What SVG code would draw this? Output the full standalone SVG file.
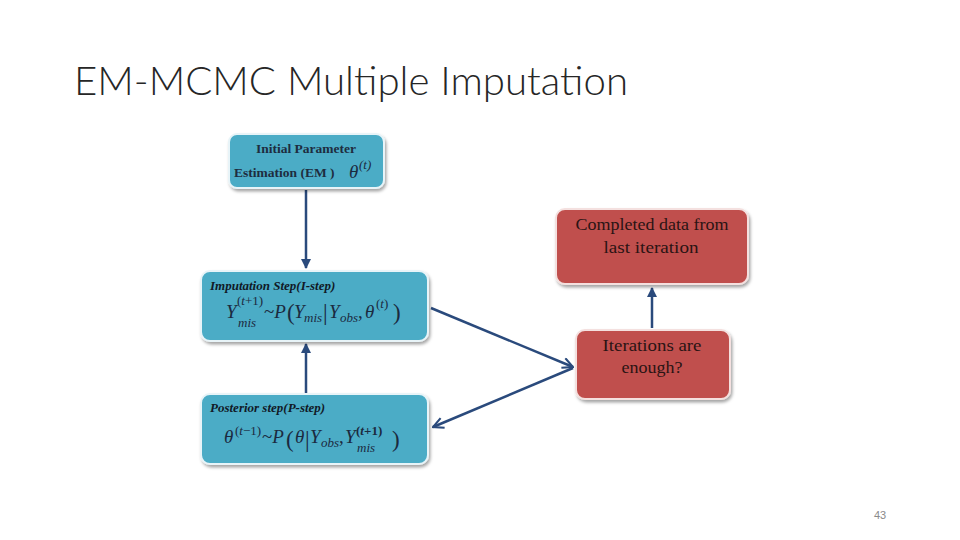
<svg xmlns="http://www.w3.org/2000/svg" width="960" height="540" viewBox="0 0 960 540">
<defs>
  <filter id="sh" x="-10%" y="-10%" width="125%" height="135%">
    <feDropShadow dx="1.5" dy="2.5" stdDeviation="1.5" flood-color="#000" flood-opacity="0.35"/>
  </filter>
  <marker id="tri" viewBox="0 0 10 10" refX="9" refY="5" markerWidth="4" markerHeight="4" orient="auto" markerUnits="strokeWidth">
    <path d="M0,0 L10,5 L0,10 z" fill="#2a4a7c"/>
  </marker>
  <marker id="vee" viewBox="0 0 12 12" refX="11" refY="6" markerWidth="5" markerHeight="5" orient="auto" markerUnits="strokeWidth">
    <path d="M1,1 L11,6 L1,11" fill="none" stroke="#2a4a7c" stroke-width="2"/>
  </marker>
</defs>
<style>
  .blue { fill: #4bacc6; stroke: #e8f4f8; stroke-width: 2; }
  .red { fill: #c0504d; stroke: #f4e0df; stroke-width: 2; }
  .conn { stroke: #2a4a7c; stroke-width: 2.5; fill: none; }
  .lbl { font-family: "Liberation Serif", serif; font-weight: bold; font-size: 13.5px; fill: #1e2d40; }
  .hd { font-family: "Liberation Serif", serif; font-weight: bold; font-style: italic; font-size: 13px; fill: #111a26; }
  .m { font-family: "Liberation Serif", serif; font-style: italic; font-size: 19px; fill: #1b2a3f; }
  .mr { font-family: "Liberation Serif", serif; font-size: 19px; fill: #1b2a3f; }
  .s { font-family: "Liberation Serif", serif; font-size: 13px; fill: #1b2a3f; }
  .si { font-family: "Liberation Serif", serif; font-style: italic; font-size: 13px; fill: #1b2a3f; }
  .big { font-family: "Liberation Serif", serif; font-size: 23px; fill: #1b2a3f; }
  .rt { font-family: "Liberation Serif", serif; font-size: 17px; fill: #2a1414; text-anchor: middle; }
</style>
<rect width="960" height="540" fill="#ffffff"/>
<text x="74" y="95" font-family="Lato, 'Open Sans', 'Liberation Sans', sans-serif" font-weight="300" font-size="40" fill="#262626" textLength="554" lengthAdjust="spacingAndGlyphs">EM-MCMC Multiple Imputation</text>

<g id="connectors">
  <line class="conn" x1="306" y1="190" x2="306" y2="268" marker-end="url(#tri)"/>
  <line class="conn" x1="306" y1="393" x2="306" y2="344" marker-end="url(#tri)"/>
  <line class="conn" x1="652" y1="328" x2="652" y2="288" marker-end="url(#tri)"/>
  <line class="conn" x1="431" y1="308" x2="573" y2="367" marker-end="url(#vee)"/>
  <line class="conn" x1="573" y1="368" x2="433" y2="427" marker-end="url(#vee)"/>
</g>

<g id="initial">
  <rect class="blue" x="229" y="134" width="155" height="54" rx="8" filter="url(#sh)"/>
  <text class="lbl" x="306" y="153" text-anchor="middle">Initial Parameter</text>
  <text class="lbl" x="234" y="177">Estimation (EM )</text>
  <text class="m" x="349" y="178">θ</text><text class="si" x="359" y="169">(t)</text>
</g>

<g id="istep">
  <rect class="blue" x="201" y="271" width="227" height="70" rx="9" filter="url(#sh)"/>
  <text class="hd" x="210" y="290">Imputation Step(I-step)</text>
  <text class="m" x="226" y="318">Y</text>
  <text class="s" x="237" y="305">(<tspan font-style="italic">t</tspan>+1)</text>
  <text class="si" x="238" y="327">mis</text>
  <text class="mr" x="264" y="318">~<tspan font-style="italic">P</tspan></text>
  <text class="big" x="287" y="320">(</text>
  <text class="m" x="294" y="318">Y</text>
  <text class="si" x="304" y="322">mis</text>
  <text class="big" x="323" y="320">|</text>
  <text class="m" x="329" y="318">Y</text>
  <text class="si" x="340" y="322">obs</text><text class="mr" x="358" y="318">,</text>
  <text class="m" x="365" y="318">θ</text>
  <text class="s" x="376" y="308">(<tspan font-style="italic">t</tspan>)</text>
  <text class="big" x="393" y="320">)</text>
</g>

<g id="pstep">
  <rect class="blue" x="201" y="394" width="227" height="70" rx="9" filter="url(#sh)"/>
  <text class="hd" x="210" y="412">Posterior step(P-step)</text>
  <text class="m" x="224" y="443">θ</text>
  <text class="s" x="235" y="435">(<tspan font-style="italic">t</tspan>−1)</text>
  <text class="mr" x="262" y="443">~<tspan font-style="italic">P</tspan></text>
  <text class="big" x="286" y="447">(</text>
  <text class="m" x="295" y="443">θ</text>
  <text class="big" x="305" y="447">|</text>
  <text class="m" x="310" y="443">Y</text>
  <text class="si" x="321" y="447">obs</text><text class="mr" x="339" y="443">,</text>
  <text class="m" x="345" y="443">Y</text>
  <text class="s" x="356" y="435" font-weight="bold">(<tspan font-style="italic">t</tspan>+1)</text>
  <text class="si" x="357" y="452">mis</text>
  <text class="big" x="392" y="447">)</text>
</g>

<g id="completed">
  <rect class="red" x="556" y="209" width="192" height="75" rx="9" filter="url(#sh)"/>
  <text class="rt" x="652" y="230" textLength="153" lengthAdjust="spacingAndGlyphs">Completed data from</text>
  <text class="rt" x="651" y="253" textLength="95" lengthAdjust="spacingAndGlyphs">last iteration</text>
</g>

<g id="enough">
  <rect class="red" x="576" y="330" width="154" height="69" rx="9" filter="url(#sh)"/>
  <text class="rt" x="652" y="351" textLength="99" lengthAdjust="spacingAndGlyphs">Iterations are</text>
  <text class="rt" x="652" y="373" textLength="61" lengthAdjust="spacingAndGlyphs">enough?</text>
</g>

<text x="880" y="519" font-family="Liberation Sans, Arial, sans-serif" font-size="11" fill="#8a8a8a" text-anchor="middle">43</text>
</svg>
